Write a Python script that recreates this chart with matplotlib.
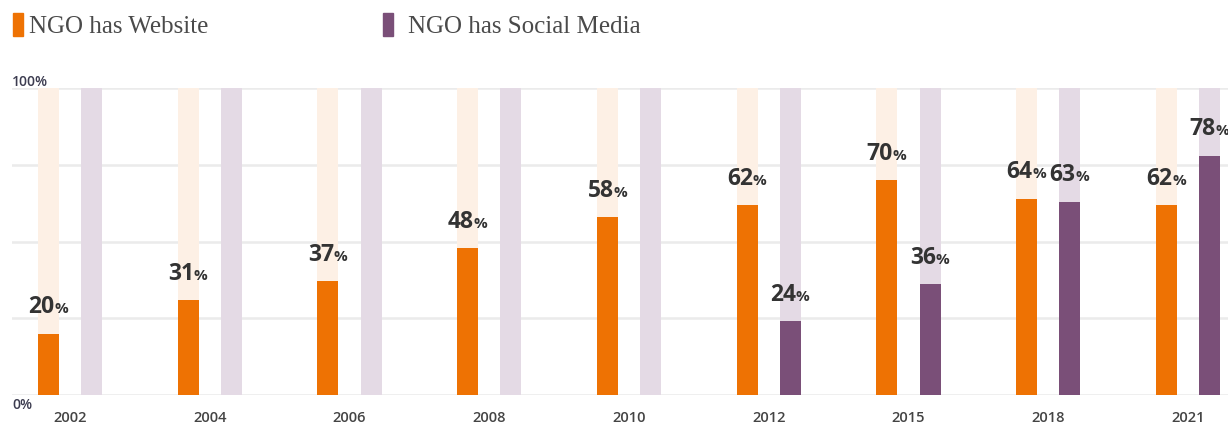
import matplotlib.pyplot as plt
import numpy as np

years = ["2002", "2004", "2006", "2008", "2010", "2012", "2015", "2018", "2021"]
website = [20, 31, 37, 48, 58, 62, 70, 64, 62]
social = [0, 0, 0, 0, 0, 24, 36, 63, 78]

orange = "#EE7203"
purple = "#7A4F78"
orange_bg = "#FDF0E5"
purple_bg = "#E4DAE5"
label_col = "#333333"

fig = plt.figure(figsize=(12.28, 4.25), dpi=100)
ax = fig.add_axes([12 / 1228, 30 / 425, 1216 / 1228, 307 / 425])

x = np.arange(len(years))
w = 0.15
off = 0.154

for g in [0, 25, 50, 75, 100]:
    ax.axhline(g, color="#EBEBEB", lw=1.8, zorder=0)

ax.bar(x - off, [100] * len(x), w, color=orange_bg, zorder=1)
ax.bar(x + off, [100] * len(x), w, color=purple_bg, zorder=1)
ax.bar(x - off, website, w, color=orange, zorder=2)
ax.bar(x + off, social, w, color=purple, zorder=2)


def pct_label(xpos, val):
    ax.annotate(str(val), (xpos, val), xytext=(4.3, 14.5), textcoords="offset points",
                ha="right", va="baseline", fontsize=16.5, fontweight="bold",
                family="Open Sans", color=label_col)
    ax.annotate("%", (xpos, val), xytext=(4.0, 14.5), textcoords="offset points",
                ha="left", va="baseline", fontsize=11, fontweight="bold",
                family="Open Sans", color=label_col)


for i in range(len(x)):
    pct_label(x[i] - off, website[i])
    if social[i] > 0:
        pct_label(x[i] + off, social[i])

ax.set_xlim((12 - 70) / 139.75, (1228 - 70) / 139.75)
ax.set_ylim(0, 100)
ax.axis("off")

for i, yr in enumerate(years):
    ax.text(x[i], -7.6, yr, ha="center", va="center", fontsize=10.5,
            fontweight="semibold", family="Open Sans", color="#444444")

ax.text(0, 102, "100%", transform=ax.get_yaxis_transform(), ha="left", va="center",
        fontsize=10, fontweight="semibold", family="Open Sans", color="#3C3C50")
ax.text(0, -3.3, "0%", transform=ax.get_yaxis_transform(), ha="left", va="center",
        fontsize=10, fontweight="semibold", family="Open Sans", color="#3C3C50")

# legend
fig.patches.append(plt.Rectangle((13 / 1228, 1 - 36 / 425), 10 / 1228, 23 / 425,
                                 transform=fig.transFigure, color=orange))
fig.patches.append(plt.Rectangle((383 / 1228, 1 - 36 / 425), 10 / 1228, 23 / 425,
                                 transform=fig.transFigure, color=purple))
fig.text(29 / 1228, 1 - 33 / 425, "NGO has Website", ha="left", va="baseline",
         fontsize=18, family="Liberation Serif", color="#4A4A4A")
fig.text(408 / 1228, 1 - 33 / 425, "NGO has Social Media", ha="left", va="baseline",
         fontsize=18, family="Liberation Serif", color="#4A4A4A")

fig.savefig("out.png", dpi=100)
